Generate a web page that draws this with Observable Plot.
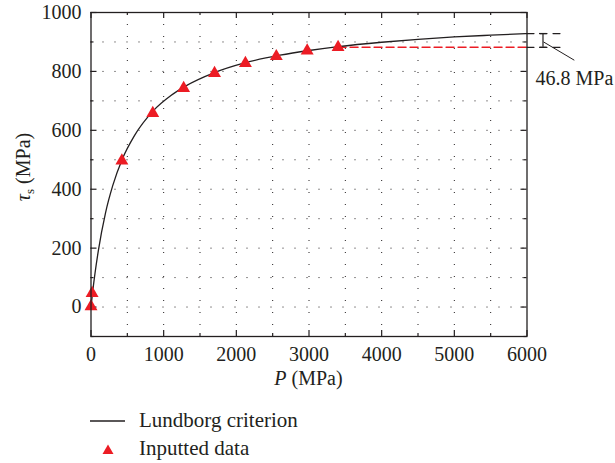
<!DOCTYPE html>
<html>
<head>
<meta charset="utf-8">
<script src="https://cdn.jsdelivr.net/npm/d3@7"></script>
<script src="https://cdn.jsdelivr.net/npm/@observablehq/plot@0.6"></script>
<style>
  html, body { margin: 0; padding: 0; background: #fff; }
  #wrap { position: relative; width: 615px; height: 463px; font-family: 'Liberation Serif', serif; color: #231f20; }
  #wrap svg text { font-family: 'Liberation Serif', serif !important; }
  #legend { position: absolute; left: 0; top: 400px; }
</style>
</head>
<body>
<div id="wrap">
  <div id="chart"></div>
  <svg id="legend" width="615" height="63">
    <line x1="90" x2="125" y1="21" y2="21" stroke="#231f20" stroke-width="1.3"></line>
    <text x="139" y="27" font-size="21" fill="#231f20">Lundborg criterion</text>
    <polygon points="108,44.5 102.5,54 113.5,54" fill="#ec1c24"></polygon>
    <text x="139" y="55" font-size="21" fill="#231f20">Inputted data</text>
  </svg>
</div>
<script>
// ---- Data ----
const inputP   = [0, 15, 425, 850, 1275, 1700, 2125, 2550, 2975, 3400];
const inputTau = [2, 47, 497, 658, 743, 794, 828, 851, 870, 882];

const curveP   = [0, 25, 100, 200, 300, 430, 600, 860, 1100, 1300, 1700, 2100, 2600, 3000, 3400, 4000, 4500, 5000, 5500, 6000];
const curveTau = [0, 56, 190, 320, 413, 502, 583, 667, 718, 750, 796, 828, 855, 871, 884, 899, 909, 917, 923, 928.6];

const xTicks      = [0, 1000, 2000, 3000, 4000, 5000, 6000];
const xMinorTicks = [500, 1500, 2500, 3500, 4500, 5500];
const yTicks      = [0, 200, 400, 600, 800, 1000];
const yMinorTicks = [-100, 100, 300, 500, 700, 900];
const yGrid       = [0, 100, 200, 300, 400, 500, 600, 700, 800, 900];
const xGrid       = [500, 1000, 1500, 2000, 2500, 3000, 3500, 4000, 4500, 5000, 5500];

// annotation of the 46.8 MPa gap
const gapLevels   = [928.6, 881.8];   // curve end, last data level
const gapLabel    = "46.8 MPa";
const gapRedSpan  = [3400, 6000];
const gapOutSpan  = [6000, 6461];
const gapBarP     = 6220;
const gapCapSpan  = [6173, 6275];
const leaderP     = [6228, 6651];
const leaderTau   = [900, 838];
const labelP      = 6117;
const labelTau    = 777;

// ---- Build tables ----
const inputs = inputP.map((p, i) => ({P: p, tau: inputTau[i]}));
const curve  = curveP.map((p, i) => ({P: p, tau: curveTau[i]}));

const W = 615, H = 400;
const mL = 90.5, mR = 88.5, mT = 12, mB = 64;
const fw = W - mL - mR, fh = H - mT - mB;
const ink = "#231f20", red = "#ec1c24";
const dots = "1,11";
const serif = "'Liberation Serif', serif";

const plot = Plot.plot({
  width: W, height: H,
  marginLeft: mL, marginRight: mR, marginTop: mT, marginBottom: mB,
  style: {fontFamily: serif, color: ink, background: "white", overflow: "visible"},
  x: {domain: [0, 6000], label: null},
  y: {domain: [-100, 1000], label: null},
  marks: [
    // dotted grid
    Plot.ruleX(xGrid, {x: d => d, stroke: ink, strokeDasharray: dots, strokeWidth: 1}),
    Plot.ruleY(yGrid, {y: d => d, stroke: ink, strokeDasharray: dots, strokeWidth: 1}),
    // inward ticks (major)
    Plot.tickX(xTicks, {x: d => d, insetTop: fh - 6, stroke: ink, strokeWidth: 1.2}),
    Plot.tickX(xTicks, {x: d => d, insetBottom: fh - 6, stroke: ink, strokeWidth: 1.2}),
    Plot.tickY(yTicks, {y: d => d, insetRight: fw - 6, stroke: ink, strokeWidth: 1.2}),
    Plot.tickY(yTicks, {y: d => d, insetLeft: fw - 6, stroke: ink, strokeWidth: 1.2}),
    // inward ticks (minor)
    Plot.tickX(xMinorTicks, {x: d => d, insetTop: fh - 3, stroke: ink, strokeWidth: 1.2}),
    Plot.tickX(xMinorTicks, {x: d => d, insetBottom: fh - 3, stroke: ink, strokeWidth: 1.2}),
    Plot.tickY(yMinorTicks, {y: d => d, insetRight: fw - 3, stroke: ink, strokeWidth: 1.2}),
    Plot.tickY(yMinorTicks, {y: d => d, insetLeft: fw - 3, stroke: ink, strokeWidth: 1.2}),
    // tick labels
    Plot.axisX(xTicks, {anchor: "bottom", tickSize: 0, tickPadding: 10, fontSize: 20, fontFamily: serif, label: null, tickFormat: d => String(d)}),
    Plot.axisY(yTicks, {anchor: "left", tickSize: 0, tickPadding: 9.5, fontSize: 20, fontFamily: serif, label: null, tickFormat: d => String(d)}),
    // gap annotation
    Plot.line(gapRedSpan.map(p => ({P: p, tau: gapLevels[1]})), {x: "P", y: "tau", stroke: red, strokeWidth: 1.4, strokeDasharray: "8,4"}),
    Plot.line(gapOutSpan.map(p => ({P: p, tau: gapLevels[0]})), {x: "P", y: "tau", stroke: ink, strokeWidth: 1.2, strokeDasharray: "7,6"}),
    Plot.line(gapOutSpan.map(p => ({P: p, tau: gapLevels[1]})), {x: "P", y: "tau", stroke: ink, strokeWidth: 1.2, strokeDasharray: "7,6"}),
    Plot.ruleX([gapBarP], {x: d => d, y1: gapLevels[1], y2: gapLevels[0], stroke: ink, strokeWidth: 1.2}),
    Plot.ruleY(gapLevels, {y: d => d, x1: gapCapSpan[0], x2: gapCapSpan[1], stroke: ink, strokeWidth: 1.2}),
    Plot.link([0], {x1: leaderP[0], y1: leaderTau[0], x2: leaderP[1], y2: leaderTau[1], stroke: ink, strokeWidth: 1}),
    Plot.text([gapLabel], {x: labelP, y: labelTau, text: d => d, textAnchor: "start", fontSize: 20, fontFamily: serif, fill: ink}),
    // curve and data
    Plot.line(curve, {x: "P", y: "tau", curve: "monotone-x", stroke: ink, strokeWidth: 1.3}),
    Plot.dot(inputs, {x: "P", y: "tau", symbol: "triangle", r: 4.8, fill: red, stroke: "none"}),
    Plot.frame({stroke: ink, strokeWidth: 1.3})
  ]
});

// axis titles with mixed styling
const svg = d3.select(plot);
const xl = svg.append("text")
  .attr("x", mL + fw / 2).attr("y", 385)
  .attr("text-anchor", "middle").attr("font-size", 20).attr("fill", ink)
  .style("font-family", serif);
xl.append("tspan").attr("font-style", "italic").text("P");
xl.append("tspan").text(" (MPa)");

const yl = svg.append("text")
  .attr("transform", "translate(30,167) rotate(-90)")
  .attr("text-anchor", "middle").attr("font-size", 20).attr("fill", ink)
  .style("font-family", serif);
yl.append("tspan").attr("font-style", "italic").text("τ");
yl.append("tspan").attr("font-size", 13).attr("dy", 4).text("s");
yl.append("tspan").attr("dy", -4).text(" (MPa)");

document.getElementById("chart").appendChild(plot);
</script>
</body>
</html>
